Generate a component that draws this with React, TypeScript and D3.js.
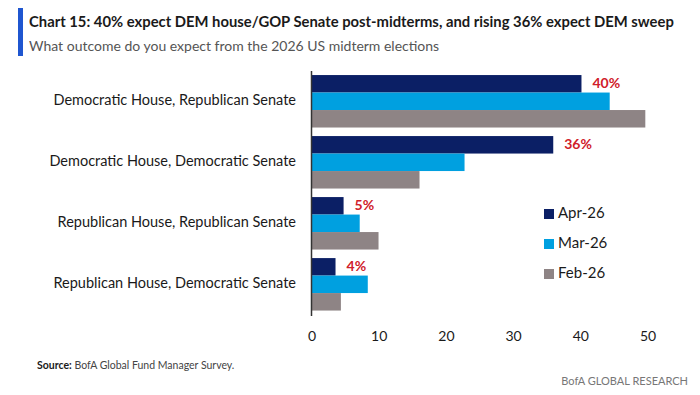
import React from "react";
import * as d3 from "d3";

const categories = [
  "Democratic House, Republican Senate",
  "Democratic House, Democratic Senate",
  "Republican House, Republican Senate",
  "Republican House, Democratic Senate",
];
const seriesNames = ["Apr-26", "Mar-26", "Feb-26"];
const apr26 = [40.1, 35.9, 4.7, 3.5];
const mar26 = [44.3, 22.7, 7.1, 8.3];
const feb26 = [49.6, 16.0, 9.9, 4.3];
const aprLabels = ["40%", "36%", "5%", "4%"];
const xTicks = [0, 10, 20, 30, 40, 50];
const seriesColors = ["#0B1F65", "#00A0E0", "#8E8485"];

const W = 700;
const H = 395;
const FONT = "Lato, 'Open Sans', sans-serif";

export default function App() {
  const x = d3.scaleLinear().domain([0, 50]).range([312, 648]);
  const y0 = d3
    .scaleBand<string>()
    .domain(categories)
    .range([72, 313.6])
    .paddingInner(0.14)
    .paddingOuter(0.05);
  const y1 = d3
    .scaleBand<string>()
    .domain(seriesNames)
    .range([0, y0.bandwidth()])
    .padding(0);
  const series = [apr26, mar26, feb26];

  return (
    <svg
      width={W}
      height={H}
      style={{ display: "block", position: "absolute", left: 0, top: 0, background: "#fff" }}
      fontFamily={FONT}
    >
      {/* header */}
      <rect x={18} y={8} width={5} height={48} fill="#1F56D0" />
      <text x={29} y={27} fontSize={14.8} fontWeight={700} fill="#1a1a1a">
        Chart 15: 40% expect DEM house/GOP Senate post-midterms, and rising 36% expect DEM sweep
      </text>
      <text x={29} y={51} fontSize={14} fill="#555">
        What outcome do you expect from the 2026 US midterm elections
      </text>

      {/* bars */}
      {categories.map((c, ci) => (
        <g key={c} transform={`translate(0,${y0(c)})`}>
          {seriesNames.map((s, si) => (
            <rect
              key={s}
              x={x(0)}
              y={y1(s)}
              width={x(series[si][ci]) - x(0)}
              height={y1.bandwidth()}
              fill={seriesColors[si]}
            />
          ))}
          <text
            x={x(apr26[ci]) + 11}
            y={(y1("Apr-26") as number) + y1.bandwidth() / 2 + 1}
            dominantBaseline="middle"
            fontSize={14}
            fontWeight={700}
            fill="#D0202A"
          >
            {aprLabels[ci]}
          </text>
          <text
            x={296}
            y={y0.bandwidth() / 2}
            textAnchor="end"
            dominantBaseline="middle"
            fontSize={14.5}
            fill="#1a1a1a"
          >
            {c}
          </text>
        </g>
      ))}

      {/* axis line */}
      <line x1={311.5} x2={311.5} y1={71} y2={316} stroke="#333" strokeWidth={1.5} />

      {/* x tick labels */}
      {xTicks.map((t) => (
        <text
          key={t}
          x={x(t)}
          y={337}
          textAnchor="middle"
          dominantBaseline="middle"
          fontSize={14}
          fill="#1a1a1a"
        >
          {t}
        </text>
      ))}

      {/* legend */}
      {seriesNames.map((s, i) => (
        <g key={s} transform={`translate(544,${214 + i * 30})`}>
          <rect x={0} y={-5} width={10} height={10} fill={seriesColors[i]} />
          <text x={14} y={0} dominantBaseline="middle" fontSize={15} fill="#1a1a1a">
            {s}
          </text>
        </g>
      ))}

      {/* footer */}
      <text x={37} y={369} fontSize={10.5} fill="#1a1a1a">
        <tspan fontWeight={700}>Source:</tspan>
        <tspan fill="#444"> BofA Global Fund Manager Survey.</tspan>
      </text>
      <text x={688} y={385} textAnchor="end" fontSize={11} fill="#777">
        BofA GLOBAL RESEARCH
      </text>
    </svg>
  );
}
